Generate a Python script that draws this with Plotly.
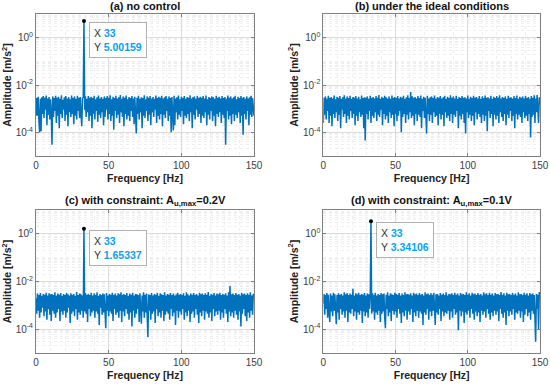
import numpy as np
import plotly.graph_objects as go

# Frequency axis (0.5 Hz resolution)
freq = [i * 0.5 for i in range(301)]

# Amplitude spectra in units of 1e-3 m/s^2
amp_a = [
    0.5, 2.8, 0.5, 3.2, 0.3, 0.1, 2.6, 0.11, 3.0, 0.6,
    3.4, 0.4, 2.9, 0.9, 3.6, 0.2, 2.7, 0.55, 3.1, 0.35,
    2.5, 0.7, 0.03, 3.3, 0.45, 2.8, 0.8, 3.5, 0.25, 2.9,
    0.5, 3.2, 0.15, 2.6, 0.6, 3.7, 0.4, 2.4, 0.9, 3.0,
    0.3, 3.4, 0.55, 2.7, 0.18, 3.1, 0.7, 2.5, 0.45, 3.6,
    0.6, 2.8, 0.22, 3.3, 0.5, 2.6, 0.35, 3.5, 0.8, 2.9,
    0.4, 3.1, 0.55, 0.18, 2.7, 3.0, 5001.59, 0.9, 3.3, 0.45,
    2.6, 0.7, 3.4, 0.3, 2.9, 0.5, 3.2, 0.15, 2.8, 0.6,
    3.5, 0.35, 2.5, 0.8, 3.0, 0.28, 3.6, 0.55, 2.7, 0.4,
    3.1, 0.7, 2.6, 0.2, 3.3, 0.45, 2.8, 0.9, 3.4, 0.35,
    2.9, 0.6, 3.7, 0.3, 2.5, 0.5, 3.2, 0.13, 2.8, 0.8,
    3.5, 0.4, 2.7, 0.55, 3.0, 0.25, 3.8, 0.7, 2.6, 0.45,
    3.3, 0.18, 2.9, 0.6, 3.6, 0.35, 2.5, 0.5, 3.1, 0.3,
    2.8, 0.8, 3.4, 0.45, 2.7, 0.22, 3.2, 0.55, 0.09, 2.9,
    0.6, 3.5, 0.35, 2.6, 0.7, 3.0, 0.15, 2.8, 0.5, 3.7,
    0.4, 2.5, 0.8, 3.3, 0.3, 2.9, 0.55, 3.4, 0.2, 2.7,
    0.7, 3.1, 0.45, 2.6, 0.9, 3.6, 0.25, 2.8, 0.5, 3.2,
    0.35, 2.9, 0.6, 3.5, 0.18, 2.7, 0.55, 3.0, 0.4, 3.4,
    0.8, 2.6, 0.3, 3.3, 0.5, 2.8, 0.1, 3.1, 0.6, 0.12,
    3.5, 0.2, 2.7, 0.7, 3.0, 0.35, 3.6, 0.55, 2.5, 0.45,
    3.2, 0.8, 2.8, 0.22, 3.4, 0.5, 2.6, 0.4, 3.1, 0.6,
    2.9, 0.3, 3.7, 0.7, 2.7, 0.15, 3.0, 0.55, 3.3, 0.35,
    2.6, 0.9, 3.5, 0.45, 2.8, 0.6, 3.2, 0.25, 2.9, 0.5,
    3.4, 0.4, 2.7, 0.7, 3.6, 0.2, 2.5, 0.55, 3.1, 0.35,
    2.8, 0.8, 3.3, 0.3, 3.0, 0.5, 2.6, 0.18, 3.5, 0.6,
    2.9, 0.45, 3.2, 0.7, 2.7, 0.25, 3.4, 0.55, 2.8, 0.4,
    3.1, 0.03, 2.6, 0.8, 3.6, 0.35, 2.9, 0.5, 3.3, 0.22,
    2.7, 0.6, 3.0, 0.3, 3.5, 0.55, 2.5, 0.4, 3.2, 0.7,
    2.8, 0.25, 3.4, 0.5, 2.9, 0.08, 3.1, 0.6, 2.6, 0.35,
    3.3, 0.8, 2.7, 0.2, 3.0, 0.55, 3.5, 0.45, 2.8, 0.7,
    0.5,
]

amp_b = [
    0.25, 2.9, 0.55, 3.3, 0.35, 2.6, 0.8, 3.5, 0.25, 2.8,
    0.5, 3.1, 0.18, 2.7, 0.6, 3.6, 0.4, 2.5, 0.7, 3.2,
    0.3, 2.9, 0.55, 3.4, 0.15, 2.6, 0.9, 3.0, 0.45, 3.7,
    0.6, 2.7, 0.25, 3.3, 0.5, 2.8, 0.35, 3.5, 0.8, 2.6,
    0.4, 3.1, 0.6, 2.9, 0.2, 3.4, 0.5, 2.7, 0.3, 3.2,
    0.7, 2.5, 0.45, 3.6, 0.55, 2.8, 0.15, 3.0, 0.045, 2.9,
    0.6, 3.3, 0.35, 2.6, 0.8, 3.5, 0.25, 2.8, 0.5, 3.1,
    0.4, 2.7, 0.7, 3.4, 0.3, 2.9, 0.55, 3.8, 0.45, 2.6,
    0.9, 3.2, 0.2, 2.8, 0.6, 3.5, 0.35, 3.0, 0.5, 2.7,
    0.25, 3.3, 0.7, 2.6, 0.4, 3.6, 0.55, 2.9, 0.18, 3.1,
    0.6, 2.8, 0.3, 3.4, 0.5, 2.7, 0.8, 3.2, 0.1, 2.9,
    0.45, 3.5, 0.6, 2.6, 0.25, 3.0, 0.55, 3.7, 0.35, 2.8,
    0.7, 5.0, 0.4, 3.3, 0.5, 2.9, 0.2, 3.1, 0.6, 2.7,
    0.3, 3.4, 0.55, 2.8, 0.45, 3.6, 0.15, 2.6, 0.8, 3.2,
    0.4, 2.9, 0.5, 0.09, 3.5, 0.6, 2.7, 0.3, 3.0, 0.55,
    3.3, 0.25, 2.8, 0.7, 3.6, 0.45, 2.6, 0.5, 3.1, 0.2,
    2.9, 0.6, 3.4, 0.35, 2.7, 0.55, 3.0, 0.18, 3.5, 0.7,
    2.6, 0.4, 3.2, 0.5, 2.8, 0.3, 3.7, 0.6, 2.9, 0.25,
    3.3, 0.55, 2.7, 0.45, 3.5, 0.8, 2.6, 0.15, 3.1, 0.5,
    2.8, 0.35, 3.4, 0.6, 2.9, 0.25, 3.0, 0.09, 2.7, 0.7,
    3.6, 0.4, 2.6, 0.55, 3.2, 0.3, 2.8, 0.5, 3.5, 0.2,
    2.9, 0.7, 3.1, 0.35, 2.7, 0.6, 3.4, 0.45, 2.6, 0.25,
    3.3, 0.55, 2.8, 0.3, 3.6, 0.5, 2.9, 0.11, 3.0, 0.8,
    2.7, 0.4, 3.5, 0.6, 2.6, 0.18, 3.2, 0.55, 2.8, 0.35,
    3.4, 0.5, 2.9, 0.25, 3.7, 0.7, 2.7, 0.45, 3.1, 0.3,
    2.8, 0.6, 3.3, 0.2, 2.6, 0.55, 3.5, 0.4, 2.9, 0.8,
    3.0, 0.3, 2.7, 0.5, 3.4, 0.15, 2.8, 0.6, 3.6, 0.35,
    2.6, 0.55, 3.2, 0.45, 2.9, 0.25, 3.3, 0.7, 2.7, 0.4,
    3.5, 0.5, 2.8, 0.3, 3.1, 0.6, 2.6, 0.06, 3.4, 0.45,
    2.9, 0.55, 3.7, 0.25, 2.7, 0.7, 3.8, 0.4, 0.25, 3.0,
    1.5,
]

amp_c = [
    2.0, 0.45, 3.1, 0.6, 2.7, 0.3, 3.3, 0.5, 2.5, 0.8,
    3.0, 0.35, 2.8, 0.55, 3.4, 0.25, 2.6, 0.7, 3.2, 0.4,
    2.9, 0.22, 3.0, 0.6, 2.7, 0.45, 3.5, 0.3, 2.6, 0.5,
    3.1, 0.7, 2.8, 0.22, 3.3, 0.55, 2.5, 0.4, 3.0, 0.6,
    2.7, 0.3, 3.4, 0.5, 2.9, 0.8, 2.6, 0.18, 3.2, 0.45,
    2.8, 0.55, 3.0, 0.35, 2.5, 0.7, 3.6, 0.25, 2.7, 0.5,
    3.1, 0.4, 2.9, 0.6, 2.6, 0.3, 1653.37, 0.55, 3.3, 0.45,
    2.8, 0.2, 3.0, 0.7, 2.7, 0.35, 3.4, 0.5, 2.6, 0.6,
    3.2, 0.3, 2.8, 0.55, 3.5, 0.45, 2.5, 0.15, 3.0, 0.8,
    2.7, 0.4, 3.1, 0.5, 2.9, 0.25, 0.11, 3.3, 0.6, 2.6,
    0.35, 3.0, 0.55, 2.8, 0.45, 3.4, 0.22, 2.7, 0.7, 3.1,
    0.4, 2.6, 0.5, 3.2, 0.3, 2.9, 0.6, 3.5, 0.2, 2.8,
    0.55, 3.0, 0.35, 2.7, 0.7, 3.3, 0.45, 2.5, 0.25, 3.1,
    0.5, 2.8, 0.13, 3.4, 0.6, 2.6, 0.3, 3.0, 0.45, 2.9,
    0.7, 2.7, 0.2, 3.2, 0.4, 0.17, 2.6, 0.55, 3.5, 0.3,
    2.8, 0.5, 3.1, 0.35, 0.046, 2.9, 0.6, 2.7, 0.25, 3.3,
    0.45, 2.6, 0.55, 3.0, 0.18, 2.8, 0.7, 3.4, 0.35, 2.5,
    0.5, 3.2, 0.3, 2.9, 0.6, 2.7, 0.22, 3.5, 0.4, 2.6,
    0.55, 3.0, 0.45, 2.8, 0.25, 3.3, 0.7, 2.7, 0.35, 3.1,
    0.5, 2.6, 0.15, 2.9, 0.6, 3.4, 0.3, 2.8, 0.55, 3.0,
    0.4, 2.7, 0.7, 3.2, 0.25, 2.5, 0.5, 3.5, 0.35, 2.9,
    0.6, 2.6, 0.2, 3.1, 0.45, 2.8, 0.55, 3.3, 0.3, 2.7,
    0.7, 3.0, 0.4, 2.6, 0.18, 3.4, 0.5, 2.9, 0.35, 3.1,
    0.6, 2.7, 0.25, 3.2, 0.55, 2.8, 0.45, 3.6, 0.3, 2.5,
    0.5, 3.0, 0.22, 2.8, 0.7, 3.3, 0.35, 2.6, 0.55, 3.1,
    0.4, 2.9, 0.6, 3.4, 0.25, 2.7, 0.5, 3.0, 0.3, 2.8,
    0.7, 3.2, 0.45, 2.6, 0.2, 3.5, 0.55, 6.5, 0.35, 2.9,
    0.5, 3.1, 0.3, 2.7, 0.6, 3.3, 0.4, 2.8, 0.25, 3.0,
    0.55, 2.6, 0.13, 3.4, 0.45, 2.9, 0.7, 3.1, 0.35, 2.7,
    0.22, 3.2, 0.5, 2.8, 0.3, 3.5, 0.6, 2.6, 0.4, 3.0,
    2.2,
]

amp_d = [
    1.2, 3.0, 0.4, 2.7, 0.7, 3.3, 0.3, 2.8, 0.5, 0.2,
    3.1, 0.55, 2.6, 0.35, 3.4, 0.6, 2.9, 0.45, 0.16, 2.7,
    0.5, 3.2, 0.25, 2.8, 0.7, 3.0, 0.4, 2.6, 0.55, 3.5,
    0.3, 2.9, 0.6, 3.3, 0.2, 2.7, 0.5, 3.1, 0.45, 2.8,
    0.7, 5.0, 0.35, 2.6, 0.55, 3.2, 0.25, 2.9, 0.5, 3.4,
    0.4, 2.7, 0.6, 3.0, 0.18, 2.8, 0.55, 3.3, 0.35, 2.6,
    0.5, 3.1, 0.3, 2.9, 0.7, 2.7, 3341.06, 0.45, 3.2, 0.55,
    2.8, 0.25, 3.4, 0.5, 2.6, 0.4, 3.0, 0.6, 2.7, 0.2,
    3.3, 0.45, 2.9, 0.55, 3.1, 0.3, 0.11, 2.8, 0.7, 3.5,
    0.35, 2.6, 0.5, 3.2, 0.22, 2.9, 0.6, 2.7, 0.4, 3.4,
    0.55, 3.0, 0.3, 2.8, 0.7, 3.3, 0.45, 2.6, 0.18, 3.1,
    0.5, 2.7, 0.35, 3.5, 0.6, 2.9, 0.25, 3.0, 0.55, 2.8,
    0.4, 3.2, 0.7, 2.6, 0.2, 3.4, 0.5, 2.9, 0.35, 3.1,
    0.6, 2.7, 0.3, 3.3, 0.55, 2.8, 0.45, 3.0, 0.15, 2.6,
    0.5, 3.5, 0.4, 2.9, 0.7, 3.1, 0.25, 2.7, 0.55, 3.2,
    0.35, 2.8, 0.6, 3.4, 0.3, 0.15, 2.9, 0.5, 3.0, 0.4,
    2.6, 0.7, 3.3, 0.22, 2.8, 0.55, 3.1, 0.35, 2.7, 0.5,
    3.5, 0.45, 2.6, 0.6, 3.0, 0.25, 2.9, 0.55, 3.2, 0.3,
    2.7, 0.7, 3.4, 0.4, 2.8, 0.5, 3.1, 0.09, 2.6, 0.6,
    3.3, 0.35, 2.9, 0.55, 3.0, 0.18, 2.7, 0.5, 3.5, 0.4,
    2.8, 0.6, 3.2, 0.3, 2.6, 0.7, 3.4, 0.45, 2.9, 0.25,
    3.1, 0.55, 2.7, 0.35, 3.3, 0.5, 2.8, 0.2, 3.0, 0.6,
    2.6, 0.4, 3.5, 0.55, 2.9, 0.3, 3.2, 0.7, 2.7, 0.45,
    3.4, 0.25, 2.8, 0.5, 3.1, 0.35, 2.6, 0.6, 3.3, 0.4,
    2.9, 0.55, 3.0, 0.22, 2.7, 0.7, 3.6, 0.45, 2.8, 0.3,
    3.2, 0.5, 2.6, 0.15, 3.4, 0.6, 2.9, 0.35, 3.0, 0.55,
    2.7, 0.4, 3.3, 0.7, 2.8, 0.25, 3.1, 0.5, 2.6, 0.45,
    3.5, 0.6, 2.9, 0.3, 3.0, 0.55, 2.7, 0.2, 3.4, 0.4,
    2.8, 0.7, 3.2, 0.35, 2.6, 0.5, 3.3, 0.25, 2.9, 0.6,
    3.1, 0.45, 2.7, 0.55, 0.03, 3.0, 0.7, 2.8, 0.1, 3.6,
    2.5,
]

titles = [
    "(a) no control",
    "(b) under the ideal conditions",
    "(c) with constraint: A<sub>u,max</sub>=0.2V",
    "(d) with constraint: A<sub>u,max</sub>=0.1V",
]
peak_freq = 33
show_tip = [True, False, True, True]
x_ticks = [0, 50, 100, 150]
y_ticks = [1e-4, 1e-2, 1e0]
y_ticktext = ["10<sup>-4</sup>", "10<sup>-2</sup>", "10<sup>0</sup>"]

W, H = 550, 385
panels = [  # (x0, x1, ytop, ybottom) in pixels
    (36, 254, 14, 156),
    (323.3, 540, 14, 156),
    (36, 254, 210, 353),
    (323.3, 540, 210, 353),
]
title_centers = [6.5, 6.5, 201, 201]

line_color = "#0072BD"
font_family = "Liberation Sans, Arial, sans-serif"
axis_color = "#808080"
tick_color = "#404040"

minor_y = [m * 10.0 ** k for k in range(-5, 1) for m in range(1, 10)
           if not (m == 1 and k in (-4, -2, 0))] + [10.0]
minor_x = [v for v in range(0, 151, 10) if v % 50 != 0]

fig = go.Figure()
series = [amp_a, amp_b, amp_c, amp_d]
for i, amp in enumerate(series):
    n = i + 1
    xa = "x" if n == 1 else f"x{n}"
    ya = "y" if n == 1 else f"y{n}"
    y_vals = [v * 1e-3 for v in amp]
    fig.add_trace(go.Scatter(x=freq, y=y_vals, mode="lines",
                             line=dict(color=line_color, width=1.5),
                             xaxis=xa, yaxis=ya, showlegend=False,
                             hoverinfo="skip"))
    x0, x1, yt, yb = panels[i]
    dom_x = [x0 / W, x1 / W]
    dom_y = [1 - yb / H, 1 - yt / H]
    common = dict(showline=True, linecolor=axis_color, linewidth=1, mirror="all",
                  ticks="inside", ticklen=3, tickcolor=axis_color,
                  gridcolor="#dcdcdc", gridwidth=1, zeroline=False,
                  automargin=False,
                  tickfont=dict(size=10, color=tick_color, family=font_family))
    fig.layout[f"xaxis{'' if n == 1 else n}"] = dict(
        domain=dom_x, range=[0, 150], anchor=ya, tickvals=x_ticks,
        title=dict(text="<b>Frequency [Hz]</b>", standoff=4,
                   font=dict(size=10.5, color="#222", family=font_family)),
        minor=dict(tickvals=minor_x, showgrid=True, griddash="dot",
                   gridcolor="#efefef", ticks=""),
        **common)
    fig.layout[f"yaxis{'' if n == 1 else n}"] = dict(
        domain=dom_y, type="log", range=[-5, 1], anchor=xa,
        tickvals=y_ticks, ticktext=y_ticktext,
        title=dict(text="<b>Amplitude [m/s<sup>2</sup>]</b>", standoff=2,
                   font=dict(size=10.5, color="#222", family=font_family)),
        minor=dict(tickvals=minor_y, showgrid=True, griddash="dot",
                   gridcolor="#efefef", ticks=""),
        **common)
    # subplot title
    fig.add_annotation(text=f"<b>{titles[i]}</b>", xref="paper", yref="paper",
                       x=(x0 + x1) / 2 / W, y=1 - title_centers[i] / H,
                       xanchor="center", yanchor="middle", showarrow=False,
                       font=dict(size=11, color="#111", family=font_family))
    if show_tip[i]:
        idx = freq.index(peak_freq)
        pk = y_vals[idx]
        fig.add_trace(go.Scatter(x=[peak_freq], y=[pk], mode="markers",
                                 marker=dict(color="black", size=4),
                                 xaxis=xa, yaxis=ya, showlegend=False,
                                 hoverinfo="skip"))
        val_col = "#0aa0f0"
        txt = (f"X <b><span style='color:{val_col}'>{peak_freq}</span></b><br>"
               f"Y <b><span style='color:{val_col}'>{amp[idx] / 1000:.5f}</span></b>")
        fig.add_annotation(text=txt, xref=xa, yref=ya, x=peak_freq,
                           y=np.log10(pk), xanchor="left", yanchor="top",
                           xshift=5, yshift=-1, showarrow=False, align="left",
                           bgcolor="white", bordercolor="#b0b0b0", borderwidth=1,
                           borderpad=4,
                           font=dict(size=10.5, color="#333", family=font_family))

fig.update_layout(width=W, height=H, margin=dict(l=0, r=0, t=0, b=0),
                  paper_bgcolor="white", plot_bgcolor="white",
                  font=dict(family=font_family))
fig.write_html("out.html", config={"displayModeBar": False},
               post_script="document.body.style.margin='0';"
                           "document.body.style.overflow='hidden';")
